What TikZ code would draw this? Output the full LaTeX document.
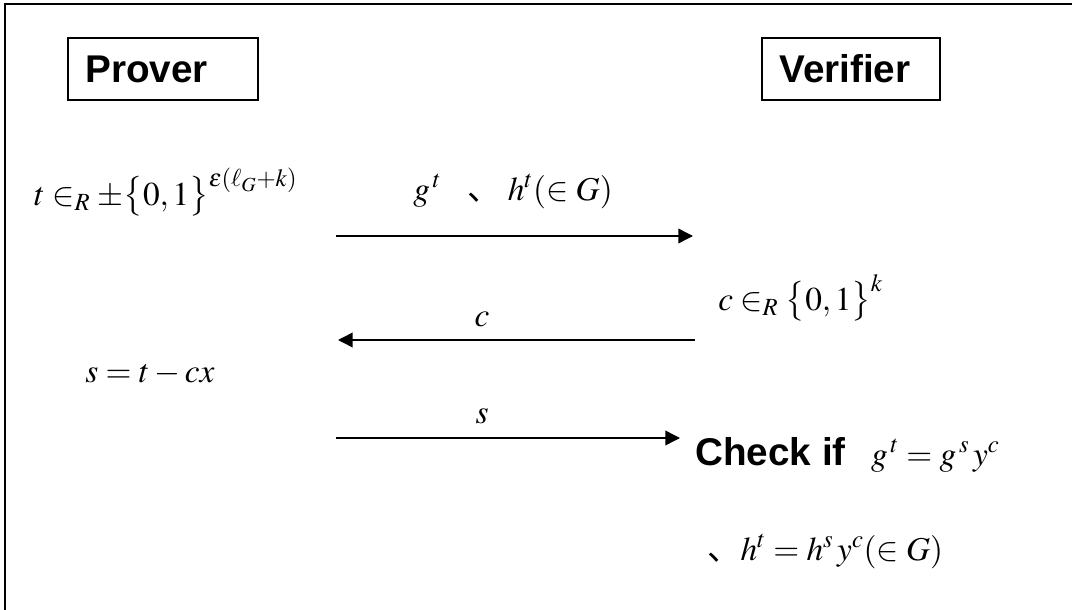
\documentclass[tikz,border=0pt]{standalone}
\usepackage{mathptmx}
\usepackage{fontspec}
\setsansfont{Liberation Sans}
\newfontfamily\cjk{Noto Sans CJK JP}
\usetikzlibrary{arrows.meta}
\newcommand{\jpcomma}{{\cjk 、}}
\newcommand{\boldsans}{\sffamily\bfseries\fontsize{29}{33}\selectfont}
\tikzset{
  party/.style={draw=black,line width=1.2pt,text width=#1*0.75pt-26pt,align=left,
    minimum height=46.5pt,inner xsep=13pt,inner ysep=0pt,font=\boldsans},
  formula/.style={inner sep=0pt,anchor=base west,font=\fontsize{25}{29}\selectfont},
  msg/.style={line width=1.1pt,-{Triangle[length=11pt,width=11pt]}}
}
\begin{document}
\begin{tikzpicture}
  [x=0.75pt,y=-0.75pt]
  \useasboundingbox (0,0) rectangle (1072,610);
  \clip (0,0) rectangle (1072,610);
  \draw[line width=1.6pt] (5,4) rectangle (1100,640);

  \node[party=190] (prover) at (163,69) {Prover};
  \node[party=178] (verifier) at (851,69) {Verifier};

  \node[formula] (commit) at (34,205) {$t\in_R \pm\bigl\{0,1\bigr\}^{\varepsilon(\ell_G+k)}$};
  \node[formula] (gh) at (413,200) {$g^{\,t}$\hspace{20pt}\jpcomma\hspace{5pt}$h^t(\in G)$};
  \node[formula] (chal) at (718,310) {$c\in_R \bigl\{0,1\bigr\}^k$};
  \node[formula] (resp) at (85,382) {$s=t-cx$};
  \node[formula] (check) at (695,465) {{\boldsans Check if}\hspace{19pt}$g^{\,t}=g^{\,s}\,y^c$};
  \node[formula] (check2) at (707,560) {\jpcomma$h^t=h^s\,y^c(\in G)$};

  \coordinate (a1) at (336,236);
  \coordinate (b1) at (693,236);
  \coordinate (a2) at (695,340);
  \coordinate (b2) at (338,340);
  \coordinate (a3) at (336,438);
  \coordinate (b3) at (680,438);

  \draw[msg] (a1) -- (b1);
  \draw[msg] (a2) -- (b2);
  \draw[msg] (a3) -- (b3);

  \node[formula,anchor=base] (clabel) at (482,326) {$c$};
  \node[formula,anchor=base] (slabel) at (482,423) {$s$};
\end{tikzpicture}
\end{document}
